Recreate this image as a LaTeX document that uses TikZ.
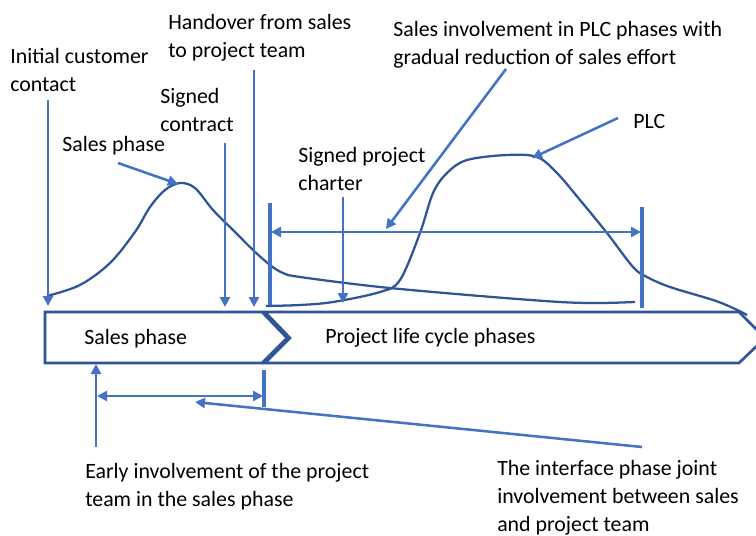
\documentclass[tikz,border=0pt]{standalone}
\usepackage{fontspec}
\setmainfont{Carlito}
\usetikzlibrary{arrows.meta}
\definecolor{arrowblue}{HTML}{4472C4}
\definecolor{curveblue}{HTML}{2F5597}
\tikzset{
  lbl/.style={inner sep=0pt, anchor=north west, align=left, font=\fontsize{16.4}{21}\selectfont},
  pointer/.style={draw=arrowblue, line width=1.9pt, -{Triangle[length=7.5pt,width=7.5pt]}},
  twoway/.style={draw=arrowblue, line width=1.9pt, {Triangle[length=7.5pt,width=7.5pt]}-{Triangle[length=7.5pt,width=7.5pt]}},
  marker/.style={draw=arrowblue, line width=2.5pt},
  curve/.style={draw=curveblue, line width=1.7pt},
  phasebox/.style={draw=curveblue, line width=2pt, line join=miter}
}
\begin{document}
\begin{tikzpicture}[x=0.75pt,y=-0.75pt]
\useasboundingbox (0,0) rectangle (756,535);

% phase bars
\draw[phasebox] (45,312) -- (262,312) -- (287,338) -- (262,363) -- (45,363) -- cycle;
\draw[phasebox] (265,312) -- (739,312) -- (765,338) -- (739,363) -- (265,363) -- (290,338) -- cycle;
\node[lbl] (salesbar) at (84,329) {Sales phase};
\node[lbl] (plcbar) at (325,328) {Project life cycle phases};

% effort curves
\draw[curve] plot[smooth, tension=0.55] coordinates {(47,296) (80,285) (110,263) (135,232) (150,207) (165,190) (180,183) (195,188) (213,210) (235,232) (253,250) (270,265) (283,273) (300,277) (380,287) (480,296) (560,302) (600,303) (635,302)};
\draw[curve] plot[smooth, tension=0.55] coordinates {(266,306) (300,305) (333,302) (380,292) (400,280) (420,233) (433,193) (447,173) (467,160) (507,155) (537,157) (557,173) (580,200) (607,233) (633,267) (647,277) (670,287) (713,300) (733,308) (747,315)};

% labels
\node[lbl] (initial) at (10,48) {Initial customer\\contact};
\node[lbl] (handover) at (168,14) {Handover from sales\\to project team};
\node[lbl] (contract) at (160,88) {Signed\\contract};
\node[lbl] (salescurve) at (62,136) {Sales phase};
\node[lbl] (charter) at (298,147) {Signed project\\charter};
\node[lbl] (involve) at (393,21) {Sales involvement in PLC phases with\\gradual reduction of sales effort};
\node[lbl] (plc) at (633,114) {PLC};
\node[lbl] (early) at (85,463) {Early involvement of the project\\team in the sales phase};
\node[lbl] (interface) at (497,460) {The interface phase joint\\involvement between sales\\and project team};

% connector ends
\coordinate (initA) at (48,100);   \coordinate (initB) at (48,306);
\coordinate (contA) at (225,143);  \coordinate (contB) at (225,307);
\coordinate (handA) at (254,70);   \coordinate (handB) at (254,307);
\coordinate (chartA) at (343,197); \coordinate (chartB) at (343,303);
\coordinate (salesA) at (118,163); \coordinate (salesB) at (178,184);
\coordinate (plcA) at (618,118);   \coordinate (plcB) at (532,158);
\coordinate (invA) at (506,69);    \coordinate (invB) at (386,229);
\coordinate (barLtop) at (270,203); \coordinate (barLbot) at (270,305);
\coordinate (barRtop) at (642,207); \coordinate (barRbot) at (642,308);
\coordinate (spanL) at (271,232);  \coordinate (spanR) at (641,232);
\coordinate (upA) at (96,447);     \coordinate (upB) at (96,364);
\coordinate (tickA) at (264,370);  \coordinate (tickB) at (264,407);
\coordinate (earlyL) at (97,396);  \coordinate (earlyR) at (263,396);
\coordinate (ifA) at (642,447);    \coordinate (ifB) at (195,402);

% markers and pointers
\draw[pointer] (initA) -- (initB);
\draw[pointer] (contA) -- (contB);
\draw[pointer] (handA) -- (handB);
\draw[pointer] (chartA) -- (chartB);
\draw[pointer] (salesA) -- (salesB);
\draw[pointer] (plcA) -- (plcB);
\draw[pointer] (invA) -- (invB);
\draw[marker] (barLtop) -- (barLbot);
\draw[marker] (barRtop) -- (barRbot);
\draw[twoway] (spanL) -- (spanR);
\draw[pointer] (upA) -- (upB);
\draw[marker] (tickA) -- (tickB);
\draw[twoway] (earlyL) -- (earlyR);
\draw[pointer] (ifA) -- (ifB);
\end{tikzpicture}
\end{document}
